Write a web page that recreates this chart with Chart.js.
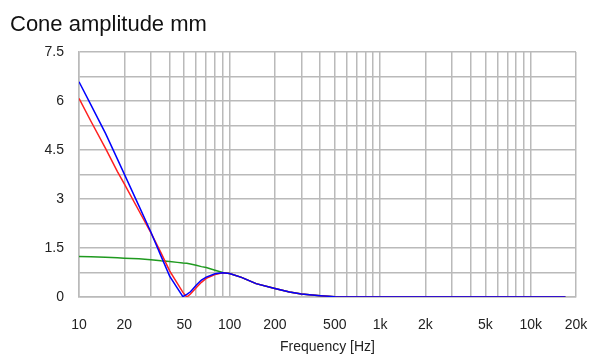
<!DOCTYPE html>
<html>
<head>
<meta charset="utf-8">
<script src="https://cdn.jsdelivr.net/npm/chart.js@4/dist/chart.umd.min.js"></script>
<style>
  html, body { margin: 0; padding: 0; background: #fff; }
  #wrap { width: 592px; height: 356px; position: relative; }
</style>
</head>
<body>
<div id="wrap"><canvas id="chart"></canvas></div>
<script>
// Frequencies (Hz) shared by the three curves
const freqs = [10, 12, 15, 18, 20, 25, 30, 35, 40, 45, 49, 52, 55, 60, 65, 70, 80, 90, 100,
               120, 150, 200, 250, 300, 400, 500, 700, 1000, 2000, 5000, 10000, 17000];

// Cone amplitude (mm)
const blueAmp  = [6.59, 5.88, 5.01, 4.22, 3.76, 2.79, 1.99, 1.26, 0.64, 0.27, 0.01, 0.08, 0.16, 0.36, 0.52, 0.61, 0.71, 0.74, 0.72,
                  0.60, 0.41, 0.26, 0.15, 0.09, 0.04, 0.01, 0, 0, 0, 0, 0, 0];
const redAmp   = [6.08, 5.38, 4.55, 3.84, 3.46, 2.64, 1.97, 1.36, 0.80, 0.42, 0.14, 0.0, 0.09, 0.28, 0.45, 0.57, 0.69, 0.74, 0.72,
                  0.60, 0.41, 0.26, 0.15, 0.09, 0.04, 0.01, 0, 0, 0, 0, 0, 0];
const greenAmp = [1.24, 1.23, 1.22, 1.20, 1.19, 1.17, 1.14, 1.11, 1.09, 1.06, 1.04, 1.03, 1.01, 0.97, 0.93, 0.90, 0.82, 0.75, 0.72,
                  0.60, 0.41, 0.26, 0.15, 0.09, 0.04, 0.01, 0, 0, 0, 0, 0, 0];

// Axis grid and labels
const xGrid = [10, 20, 30, 40, 50, 60, 70, 80, 90, 100, 200, 300, 400, 500, 600, 700, 800, 900,
               1000, 2000, 3000, 4000, 5000, 6000, 7000, 8000, 9000, 10000, 20000];
const xLabels = { 10: '10', 20: '20', 50: '50', 100: '100', 200: '200', 500: '500',
                  1000: '1k', 2000: '2k', 5000: '5k', 10000: '10k', 20000: '20k' };
const yGrid = [0, 0.75, 1.5, 2.25, 3, 3.75, 4.5, 5.25, 6, 6.75, 7.5];
const yLabels = { 0: '0', 1.5: '1.5', 3: '3', 4.5: '4.5', 6: '6', 7.5: '7.5' };

const FONT = 'Liberation Sans, Arial, sans-serif';
const GRID = '#bababa';

function toPoints(ys) {
    return freqs.map((f, i) => ({ x: f, y: ys[i] }));
}

function lineSet(label, data, color) {
    return {
        label: label,
        data: toPoints(data),
        borderColor: color,
        borderWidth: 1.5,
        pointRadius: 0,
        tension: 0,
        fill: false
    };
}

// chart heading drawn in the top-left corner
const headingPlugin = {
    id: 'heading',
    afterDraw(chart) {
        const ctx = chart.ctx;
        ctx.save();
        ctx.font = '22px ' + FONT;
        ctx.fillStyle = '#111';
        ctx.textAlign = 'left';
        ctx.textBaseline = 'alphabetic';
        ctx.fillText('Cone amplitude mm', 10, 31);
        ctx.restore();
    }
};

new Chart(document.getElementById('chart').getContext('2d'), {
    type: 'line',
    data: {
        datasets: [
            lineSet('Blue', blueAmp, '#0000ff'),
            lineSet('Red', redAmp, '#ff2020'),
            lineSet('Green', greenAmp, '#1f9a1f')
        ]
    },
    options: {
        responsive: true,
        maintainAspectRatio: false,
        animation: false,
        layout: { padding: { top: 52, right: 16, left: 0, bottom: 0 } },
        scales: {
            x: {
                type: 'logarithmic',
                min: 10,
                max: 20000,
                afterBuildTicks: (scale) => { scale.ticks = xGrid.map(v => ({ value: v })); },
                afterFit: (scale) => {
                    scale.height = 59;
                    scale.paddingLeft = 0;
                    scale.paddingRight = 0;
                },
                ticks: {
                    autoSkip: false,
                    maxRotation: 0,
                    padding: 20,
                    color: '#222',
                    font: { family: FONT, size: 14 },
                    callback: (v) => xLabels[v] || ''
                },
                grid: { color: GRID, lineWidth: 1.5, drawTicks: false },
                border: { display: true, color: GRID, width: 1.5 },
                title: {
                    display: true,
                    text: 'Frequency [Hz]',
                    color: '#222',
                    font: { family: FONT, size: 14 },
                    padding: { top: 0, bottom: 0 }
                }
            },
            y: {
                min: 0,
                max: 7.5,
                afterBuildTicks: (scale) => { scale.ticks = yGrid.map(v => ({ value: v })); },
                afterFit: (scale) => { scale.width = 79; },
                ticks: {
                    autoSkip: false,
                    padding: 15,
                    color: '#222',
                    font: { family: FONT, size: 14 },
                    callback: (v) => yLabels[v] || ''
                },
                grid: { color: GRID, lineWidth: 1.5, drawTicks: false },
                border: { display: true, color: GRID, width: 1.5 }
            }
        },
        plugins: {
            legend: { display: false },
            tooltip: { enabled: false }
        }
    },
    plugins: [headingPlugin]
});
</script>
</body>
</html>
